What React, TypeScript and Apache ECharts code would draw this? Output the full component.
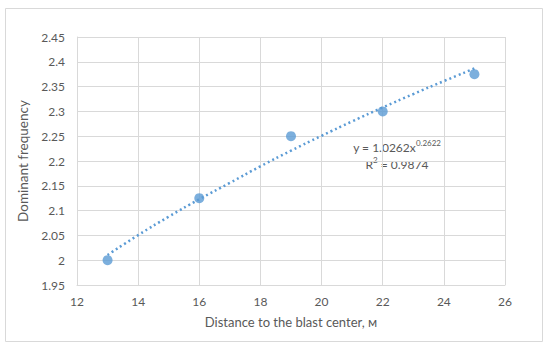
import React, { useEffect, useRef } from "react";
import * as echarts from "echarts";

const distances = [13, 16, 19, 22, 25];
const frequencies = [2.0, 2.125, 2.25, 2.3, 2.375];
const trendX = [13, 14, 15, 16, 17, 18, 19, 20, 21, 22, 23, 24, 25];
const trendY = [2.0105, 2.0505, 2.0878, 2.1229, 2.1559, 2.1893, 2.2208, 2.2509, 2.2799, 2.3079, 2.3349, 2.3611, 2.3865];
const equationText = "y = 1.0262x";
const equationExp = "0.2622";
const r2Base = "R";
const r2Exp = "2";
const r2Value = " = 0.9874";

const FONT = "Lato, 'Open Sans', sans-serif";
const TEXT = "#595959";
const GRID = "#D9D9D9";
const BLUE = "#5B9BD5";

export default function App() {
  const ref = useRef<HTMLDivElement>(null);
  useEffect(() => {
    if (!ref.current) return;
    const chart = echarts.init(ref.current, undefined, { renderer: "svg" });
    chart.setOption({
      animation: false,
      backgroundColor: "#fff",
      grid: { left: 77, top: 37, width: 428, height: 248, containLabel: false },
      xAxis: {
        type: "value",
        min: 12,
        max: 26,
        interval: 2,
        name: "Distance to the blast center, м",
        nameLocation: "middle",
        nameGap: 30,
        nameTextStyle: { color: TEXT, fontSize: 13, fontFamily: FONT },
        axisLine: { show: true, lineStyle: { color: GRID, width: 1 } },
        axisTick: { show: false },
        axisLabel: { color: TEXT, fontSize: 12, fontFamily: FONT, margin: 10 },
        splitLine: { show: true, lineStyle: { color: GRID, width: 1 } },
      },
      yAxis: {
        type: "value",
        min: 1.95,
        max: 2.45,
        interval: 0.05,
        name: "Dominant frequency",
        nameLocation: "middle",
        nameGap: 41,
        nameTextStyle: { color: TEXT, fontSize: 13.5, fontFamily: FONT },
        axisLine: { show: true, lineStyle: { color: GRID, width: 1 } },
        axisTick: { show: false },
        axisLabel: {
          color: TEXT,
          fontSize: 12,
          fontFamily: FONT,
          margin: 12,
          formatter: (v: number) => String(parseFloat(v.toFixed(2))),
        },
        splitLine: { show: true, lineStyle: { color: GRID, width: 1 } },
      },
      series: [
        {
          type: "line",
          data: trendX.map((x, i) => [x, trendY[i]]),
          smooth: true,
          showSymbol: false,
          symbol: "none",
          lineStyle: { color: BLUE, width: 2.5, type: [2, 3] },
          z: 2,
        },
        {
          type: "scatter",
          data: distances.map((x, i) => [x, frequencies[i]]),
          symbolSize: 10,
          itemStyle: { color: BLUE },
          z: 3,
        },
      ],
      graphic: [
        {
          type: "rect",
          shape: { x: 5.5, y: 8.5, width: 537, height: 333 },
          style: { fill: "none", stroke: GRID, lineWidth: 1 },
          silent: true,
        },
        {
          type: "text",
          x: 397,
          y: 146,
          style: {
            text: "{a|" + equationText + "}{b|" + equationExp + "}",
            align: "center",
            verticalAlign: "middle",
            rich: {
              a: { fontSize: 12, fontFamily: FONT, fill: TEXT, verticalAlign: "bottom" },
              b: { fontSize: 8, fontFamily: FONT, fill: TEXT, verticalAlign: "top", padding: [0, 0, 6, 0] },
            },
          },
        },
        {
          type: "text",
          x: 397,
          y: 163,
          style: {
            text: "{a|" + r2Base + "}{b|" + r2Exp + "}{a|" + r2Value + "}",
            align: "center",
            verticalAlign: "middle",
            rich: {
              a: { fontSize: 12, fontFamily: FONT, fill: TEXT, verticalAlign: "bottom" },
              b: { fontSize: 8, fontFamily: FONT, fill: TEXT, verticalAlign: "top", padding: [0, 0, 6, 0] },
            },
          },
        },
      ],
    });
    return () => chart.dispose();
  }, []);
  return (
    <div
      ref={ref}
      style={{ position: "absolute", left: 0, top: 0, width: 550, height: 350 }}
    />
  );
}
